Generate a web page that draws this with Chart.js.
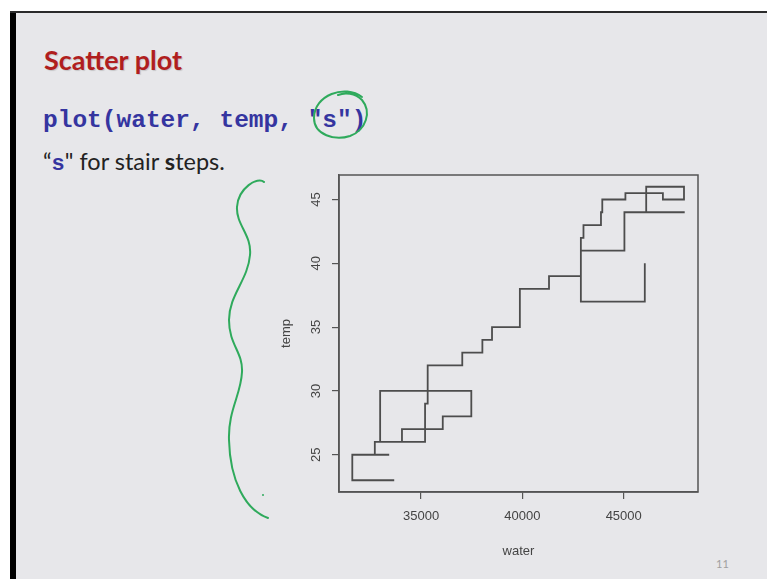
<!DOCTYPE html>
<html>
<head>
<meta charset="utf-8">
<script src="https://cdn.jsdelivr.net/npm/chart.js@4.4.0/dist/chart.umd.min.js"></script>
<style>
  html, body { margin: 0; padding: 0; background: #fff; }
  body { width: 767px; height: 579px; position: relative; overflow: hidden; }
  #diapo { position: absolute; left: 16px; top: 12px; right: 0; bottom: 0; background: #e7e7ea; }
  #barra { position: absolute; left: 10px; top: 11px; width: 6px; bottom: 0; background: #000; }
  #linea { position: absolute; left: 10px; top: 11px; right: 0; height: 2px; background: #2b2b2b; }
  .titulo { position: absolute; left: 44px; top: 46px; font: bold 27px Lato, sans-serif; line-height: 1; color: #b01e1e; text-shadow: 1px 1px 1px rgba(0,0,0,0.15); }
  .codigo { position: absolute; left: 43px; top: 109px; font: bold 24.5px "Liberation Mono", monospace; line-height: 1; color: #3535a0; white-space: pre; }
  .sub { position: absolute; left: 43px; top: 150px; font: 23.5px Lato, sans-serif; line-height: 1; color: #222; white-space: pre; }
  .sub .cod { font: bold 22px "Liberation Mono", monospace; color: #3535a0; }
  .pag { position: absolute; left: 716px; top: 557px; font: 11px Lato, sans-serif; color: #a0a0a0; }
  #grafico { position: absolute; left: 0; top: 0; }
  #notas { position: absolute; left: 0; top: 0; pointer-events: none; }
</style>
</head>
<body>
<div id="diapo"></div>
<div id="barra"></div>
<div id="linea"></div>
<div class="titulo">Scatter plot</div>
<div class="codigo">plot(water, temp, "s")</div>
<div class="sub">“<span class="cod">s</span>" for stair <b>s</b>teps.</div>
<div class="pag">11</div>
<canvas id="grafico" width="767" height="579"></canvas>
<svg id="notas" width="767" height="579">
  <path d="M264,182 C258,176 238,188 237,207 C236,225 252,235 250,255 C248,280 229,295 229,320 C229,345 243,352 242,372 C241,395 228,410 229,440 C230,480 245,510 268,518" fill="none" stroke="#2faa5c" stroke-width="2" stroke-linecap="round"/>
  <circle cx="263" cy="495" r="1" fill="#2faa5c"/>
  <path d="M362,97 C345,84 314,95 314,118 C314,135 335,141 350,136 C366,130 372,112 362,100 C355,93 345,92 338,95" fill="none" stroke="#2faa5c" stroke-width="2" stroke-linecap="round"/>
</svg>
<script>
// datos, en el orden en que se dibujan
const agua = [33676, 31607, 33428, 32718, 34058, 36071, 37480, 32981, 35198, 35327,
              37034, 38026, 38502, 39876, 41314, 42886, 43015, 43878, 43943, 45084,
              46934, 47975, 46110, 48010, 45035, 42886, 46041];
const temp = [23, 25, 25, 26, 27, 28, 30, 26, 29, 32,
              33, 34, 35, 38, 39, 42, 43, 44, 45, 45.5,
              45, 46, 44, 44, 41, 37, 40];
const ticksAgua = [35000, 40000, 45000];
const ticksTemp = [25, 30, 35, 40, 45];

// rango con 4% extra como hace R
function rango(valores) {
    let min = Math.min(...valores);
    let max = Math.max(...valores);
    let extra = (max - min) * 0.04;
    return [min - extra, max + extra];
}
const [xMin, xMax] = rango(agua);
const [yMin, yMax] = rango(temp);

const gris = '#555';
const texto = '#444';
const fuente = { family: 'Liberation Sans', size: 13 };

const caja = {
    id: 'caja',
    afterDraw(chart) {
        const { ctx, chartArea } = chart;
        ctx.save();
        ctx.strokeStyle = gris;
        ctx.lineWidth = 1.5;
        ctx.strokeRect(chartArea.left, chartArea.top, chartArea.right - chartArea.left, chartArea.bottom - chartArea.top);
        ctx.restore();
    }
};

new Chart(document.getElementById('grafico').getContext('2d'), {
    type: 'line',
    data: {
        datasets: [{
            data: agua.map((x, i) => ({ x: x, y: temp[i] })),
            stepped: 'before',
            borderColor: '#4d4d4d',
            borderWidth: 1.8,
            pointRadius: 0,
            fill: false
        }]
    },
    options: {
        responsive: false,
        devicePixelRatio: 1,
        animation: false,
        layout: { padding: { left: 260, right: 69, top: 175, bottom: 20 } },
        plugins: { legend: { display: false }, tooltip: { enabled: false } },
        scales: {
            x: {
                type: 'linear',
                position: 'bottom',
                min: xMin,
                max: xMax,
                afterBuildTicks: s => { s.ticks = ticksAgua.map(v => ({ value: v })); },
                afterFit: s => { s.height = 67; },
                grid: { drawOnChartArea: false, drawTicks: true, tickLength: 7, tickColor: gris, lineWidth: 1.2 },
                border: { display: true, color: gris, width: 1.5 },
                ticks: { color: texto, font: fuente, padding: 10, maxRotation: 0, autoSkip: false, callback: v => String(v) },
                title: { display: true, text: 'water', color: texto, font: fuente, padding: { top: 0, bottom: 0 } }
            },
            y: {
                type: 'linear',
                position: 'left',
                min: yMin,
                max: yMax,
                afterBuildTicks: s => { s.ticks = ticksTemp.map(v => ({ value: v })); },
                afterFit: s => { s.width = 79; },
                grid: { drawOnChartArea: false, drawTicks: true, tickLength: 7, tickColor: gris, lineWidth: 1.2 },
                border: { display: true, color: gris, width: 1.5 },
                ticks: { color: texto, font: fuente, padding: 8, minRotation: 90, maxRotation: 90, crossAlign: 'center', autoSkip: false, callback: v => String(v) },
                title: { display: true, text: 'temp', color: texto, font: fuente, padding: { top: 19, bottom: 0 } }
            }
        }
    },
    plugins: [caja]
});
</script>
</body>
</html>
